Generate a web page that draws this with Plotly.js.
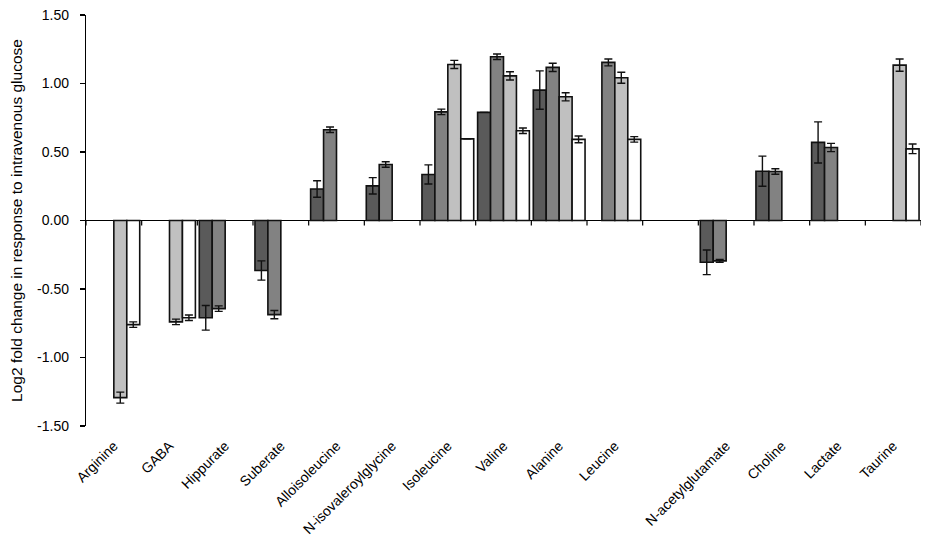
<!DOCTYPE html>
<html>
<head>
<meta charset="utf-8">
<script src="https://cdn.plot.ly/plotly-3.0.1.min.js"></script>
<style>html,body{margin:0;padding:0;background:#fff;}#chart{width:948px;height:543px;}</style>
</head>
<body>
<div id="chart"></div>
<script>
var categories = ["Arginine","GABA","Hippurate","Suberate","Alloisoleucine","N-isovaleroylglycine","Isoleucine","Valine","Alanine","Leucine"," ","N-acetylglutamate","Choline","Lactate","Taurine"];

var series1 = [null, null, -0.71, -0.365, 0.23, 0.253, 0.336, 0.789, 0.952, null, null, -0.305, 0.36, 0.57, null];
var err1    = [null, null, 0.09, 0.07, 0.06, 0.06, 0.07, null, 0.14, null, null, 0.09, 0.11, 0.15, null];

var series2 = [null, null, -0.643, -0.687, 0.662, 0.409, 0.793, 1.195, 1.118, 1.154, null, -0.295, 0.358, 0.533, null];
var err2    = [null, null, 0.02, 0.03, 0.02, 0.02, 0.02, 0.02, 0.03, 0.025, null, 0.01, 0.02, 0.03, null];

var series3 = [-1.293, -0.74, null, null, null, null, 1.139, 1.056, 0.903, 1.042, null, null, null, null, 1.134];
var err3    = [0.04, 0.02, null, null, null, null, 0.03, 0.03, 0.03, 0.04, null, null, null, null, 0.045];

var series4 = [-0.76, -0.71, null, null, null, null, 0.596, 0.655, 0.592, 0.592, null, null, null, null, 0.523];
var err4    = [0.02, 0.02, null, null, null, null, null, 0.02, 0.025, 0.02, null, null, null, null, 0.035];

var yTickVals = [-1.5, -1.0, -0.5, 0, 0.5, 1.0, 1.5];
var yTickText = ["-1.50", "-1.00", "-0.50", "0.00", "0.50", "1.00", "1.50"];

var fills = ["#5a5a5a", "#828282", "#c0c0c0", "#ffffff"];
var allSeries = [series1, series2, series3, series4];
var allErr = [err1, err2, err3, err4];

var FONT = "Liberation Sans, Arial, sans-serif";

var traces = allSeries.map(function (s, i) {
  return {
    type: "bar",
    x: categories,
    y: s,
    marker: { color: fills[i], line: { color: "#111", width: 1.6 } },
    error_y: { type: "data", array: allErr[i], visible: true, color: "#111", thickness: 1.4, width: 4 },
    showlegend: false,
    hoverinfo: "skip"
  };
});

// small tick marks under the zero line at every category boundary
var boundaries = [];
for (var b = 0; b <= categories.length; b++) boundaries.push(b - 0.5);
var tickShapes = boundaries.map(function (bx) {
  return {
    type: "line", xref: "x", yref: "y",
    ysizemode: "pixel", yanchor: 0,
    x0: bx, x1: bx, y0: 0, y1: -5,
    line: { color: "#000", width: 1.2 }
  };
});

var layout = {
  width: 948, height: 543,
  margin: { l: 86, r: 27, t: 15, b: 117 },
  paper_bgcolor: "#fff", plot_bgcolor: "#fff",
  font: { family: FONT, size: 13, color: "#000" },
  barmode: "group",
  bargap: 0.07, bargroupgap: 0,
  showlegend: false,
  shapes: tickShapes,
  xaxis: {
    type: "category",
    categoryorder: "array",
    categoryarray: categories,
    range: [-0.5, categories.length - 0.5],
    showline: false, ticks: "", showgrid: false, zeroline: false,
    tickangle: -45,
    ticklabelstandoff: 8,
    tickfont: { size: 14, family: FONT, color: "#000" }
  },
  yaxis: {
    range: [-1.5, 1.5],
    tickmode: "array",
    tickvals: yTickVals,
    ticktext: yTickText,
    showline: true, linecolor: "#000", linewidth: 1.2,
    ticks: "outside", ticklen: 5, tickwidth: 1.2, tickcolor: "#000",
    ticklabelstandoff: 8,
    showgrid: false,
    zeroline: true, zerolinecolor: "#000", zerolinewidth: 1.2,
    tickfont: { size: 14, family: FONT, color: "#000" },
    title: { text: "Log2 fold change in response to intravenous glucose", standoff: 10,
             font: { size: 15.5, family: FONT, color: "#000" } }
  }
};

Plotly.newPlot("chart", traces, layout, { displayModeBar: false, staticPlot: true });
</script>
</body>
</html>
